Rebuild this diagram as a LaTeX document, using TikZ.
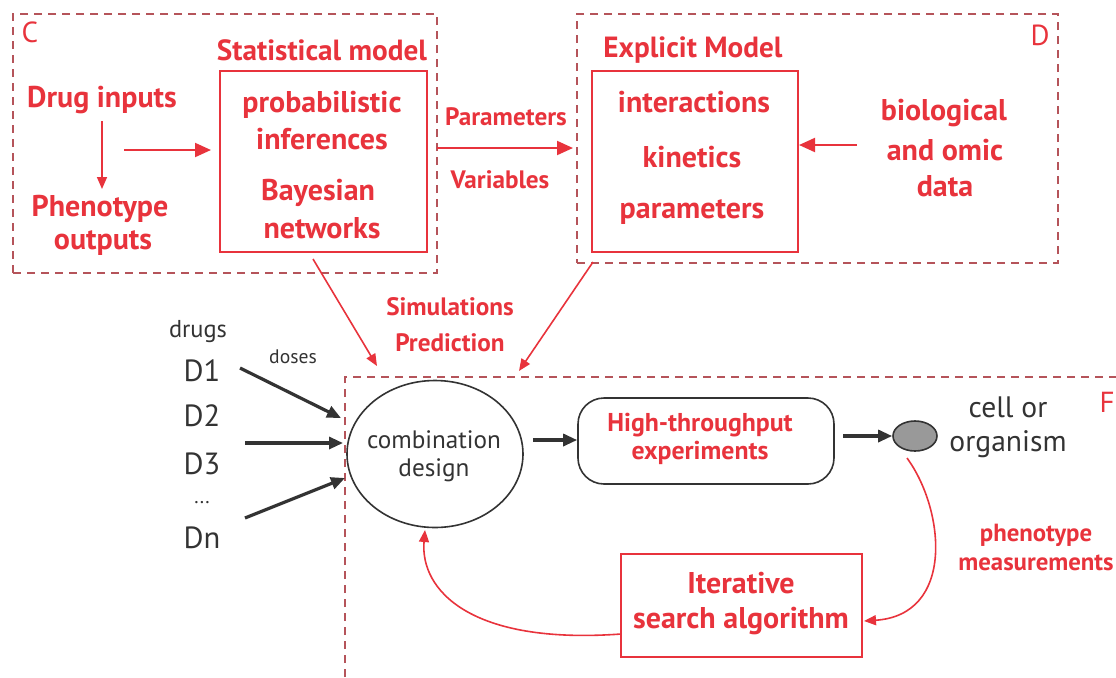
\documentclass[tikz,border=0pt]{standalone}
\usepackage{fontspec}
\setmainfont{PT Sans}
\usetikzlibrary{arrows.meta,shapes.geometric}
\definecolor{myred}{HTML}{E8333C}
\definecolor{dashred}{HTML}{B5545A}
\definecolor{mygray}{HTML}{333333}
\begin{document}
\begin{tikzpicture}[x=0.5pt,y=-0.5pt,
  rt/.style={text=myred,font=\bfseries\fontsize{15}{18}\selectfont,inner sep=0pt,align=center},
  rts/.style={text=myred,font=\bfseries\fontsize{12.6}{15}\selectfont,inner sep=0pt,align=center},
  bt/.style={text=mygray,font=\fontsize{15.3}{18}\selectfont,inner sep=0pt,align=center},
  redbox/.style={draw=myred,line width=1pt,inner sep=0pt},
  dashbox/.style={draw=dashred,line width=0.6pt,dash pattern=on 4pt off 3pt,inner sep=0pt},
  rarr/.style={draw=myred,line width=1pt,-{Triangle[length=8pt,width=7pt]}},
  rarrs/.style={draw=myred,line width=0.8pt,-{Triangle[length=6pt,width=5pt]}},
  barr/.style={draw=mygray,line width=1.6pt,-{Triangle[length=7pt,width=6pt]}},
]
\useasboundingbox (0,0) rectangle (1116,677);
% box C
\node[dashbox,minimum width=212pt,minimum height=129.5pt] (C) at (225,143.5) {};
\node[rt,font=\fontsize{14.5}{16}\selectfont] (Clab) at (30,32) {C};
\node[rt,font=\bfseries\fontsize{14.6}{17}\selectfont] (stattitle) at (322,50) {Statistical model};
\node[redbox,minimum width=103.5pt,minimum height=90.5pt] (stat) at (323.5,161.5) {};
\node[rt] (prob) at (322,105) {probabilistic};
\node[rt] (infer) at (322,139) {inferences};
\node[rt] (bayes) at (318,193) {Bayesian};
\node[rt] (netw) at (322,228) {networks};
\node[rt] (drug) at (102,100) {Drug inputs};
\node[rt] (pheno) at (100,209) {Phenotype};
\node[rt] (outp) at (103,243) {outputs};
\coordinate (dstart) at (102,121);
\coordinate (dend) at (102,189);
\draw[rarrs] (dstart) -- (dend);
\coordinate (hstart) at (124,150);
\coordinate (hend) at (211,150);
\draw[rarr] (hstart) -- (hend);
% box D
\node[dashbox,minimum width=240.5pt,minimum height=124.5pt] (D) at (817.5,138.5) {};
\node[rt,font=\fontsize{14.5}{16}\selectfont] (Dlab) at (1040,35) {D};
\node[rt,font=\bfseries\fontsize{14.6}{17}\selectfont] (exptitle) at (693,50) {Explicit Model};
\node[redbox,minimum width=103pt,minimum height=90.5pt] (expl) at (695,161.5) {};
\node[rt] (inter) at (694,102) {interactions};
\node[rt] (kin) at (692,157) {kinetics};
\node[rt] (param) at (692,212) {parameters};
\node[rt] (bio) at (944,113) {biological};
\node[rt] (omic) at (945,150) {and omic};
\node[rt] (data) at (945,186) {data};
\coordinate (bstart) at (857,145);
\draw[rarr] (bstart) -- (expl.east |- bstart);
% between
\coordinate (pstart) at (437,148);
\coordinate (pend) at (573,148);
\draw[rarr] (pstart) -- (pend);
\node[rts] (params) at (506,117) {Parameters};
\node[rts] (vars) at (500,180) {Variables};
% to F
\coordinate (s1) at (313,259);
\coordinate (e1) at (377,366);
\draw[rarrs] (s1) -- (e1);
\coordinate (s2) at (593,262);
\coordinate (e2) at (519,371);
\draw[rarrs] (s2) -- (e2);
\node[rts] (sim) at (450,307) {Simulations};
\node[rts] (pred) at (450,343) {Prediction};
% box F
\coordinate (F1) at (345,677);
\coordinate (F2) at (345,377);
\coordinate (F3) at (1116,377);
\draw[dashbox] (F1) -- (F2) -- (F3);
\node[rt,font=\fontsize{14.5}{16}\selectfont] (Flab) at (1107,402) {F};
% drugs
\node[bt,font=\fontsize{12.2}{14}\selectfont] (drugs) at (198,332) {drugs};
\node[bt,font=\fontsize{9.8}{11}\selectfont] (doses) at (293,357) {doses};
\node[bt] (d1) at (202,371) {D1};
\node[bt] (d2) at (202,416) {D2};
\node[bt] (d3) at (202,464) {D3};
\node[bt,font=\fontsize{10}{11}\selectfont] (dots) at (202,503) {...};
\node[bt] (dn) at (202,538) {Dn};
% ellipse
\node[ellipse,draw=mygray,line width=0.8pt,minimum width=88pt,minimum height=73.5pt,inner sep=0pt] (comb) at (435,454) {};
\node[bt,font=\fontsize{12.6}{14}\selectfont] (combt) at (434,456) {combination\\design};
\coordinate (a1) at (240,368);
\coordinate (a1e) at (341,418);
\draw[barr] (a1) -- (a1e);
\coordinate (a2) at (245,443);
\coordinate (a2e) at (343,443);
\draw[barr] (a2) -- (a2e);
\coordinate (a3) at (245,518);
\coordinate (a3e) at (345,478);
\draw[barr] (a3) -- (a3e);
% high throughput
\node[draw=mygray,line width=0.8pt,rounded corners=13pt,minimum width=128pt,minimum height=43pt,inner sep=0pt] (ht) at (706,441) {};
\node[rts,font=\bfseries\fontsize{12.9}{14}\selectfont] (htt) at (700,439) {High-throughput\\experiments};
\draw[barr] (comb.east |- 0,440) ++(9,0) coordinate (c1) -- (ht.west |- c1);
\coordinate (c2) at (843,436);
\node[ellipse,draw=mygray,fill=gray!80!white,line width=0.8pt,minimum width=22pt,minimum height=15pt,inner sep=0pt] (cell) at (915,436) {};
\draw[barr] (c2) -- (cell.west);
\node[bt,font=\fontsize{14.8}{17}\selectfont] (cellt) at (1008,427) {cell or\\organism};
% iterative
\node[redbox,minimum width=120.5pt,minimum height=51.5pt] (iter) at (741.5,605.5) {};
\node[rt,font=\bfseries\fontsize{15}{17.5}\selectfont] (itert) at (741,604) {Iterative\\search algorithm};
\node[rts,font=\bfseries\fontsize{12.4}{14.5}\selectfont] (phm) at (1036,547) {phenotype\\measurements};
\coordinate (cs) at (907,458);
\coordinate (ie) at (864,621);
\draw[rarrs] (cs) .. controls (945,510) and (955,615) .. (ie);
\coordinate (is) at (621,634);
\coordinate (ce) at (425,530);
\draw[rarrs] (is) .. controls (470,645) and (420,590) .. (ce);
\end{tikzpicture}
\end{document}
